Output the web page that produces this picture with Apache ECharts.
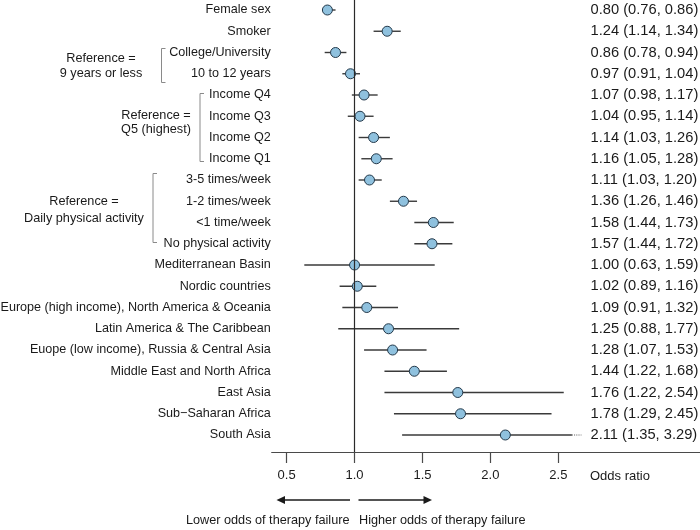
<!DOCTYPE html>
<html>
<head>
<meta charset="utf-8">
<script src="https://cdn.jsdelivr.net/npm/echarts@6/dist/echarts.min.js"></script>
<style>html,body{margin:0;padding:0;background:#fff}#c{width:700px;height:530px}</style>
</head>
<body>
<div id="c"></div>
<script>
var labels = ["Female sex","Smoker","College/University","10 to 12 years","Income Q4","Income Q3","Income Q2","Income Q1","3-5 times/week","1-2 times/week","<1 time/week","No physical activity","Mediterranean Basin","Nordic countries","Europe (high income), North America & Oceania","Latin America & The Caribbean","Euope (low income), Russia & Central Asia","Middle East and North Africa","East Asia","Sub\u2212Saharan Africa","South Asia"];
var oddsRatio = [0.80,1.24,0.86,0.97,1.07,1.04,1.14,1.16,1.11,1.36,1.58,1.57,1.00,1.02,1.09,1.25,1.28,1.44,1.76,1.78,2.11];
var ciLow = [0.76,1.14,0.78,0.91,0.98,0.95,1.03,1.05,1.03,1.26,1.44,1.44,0.63,0.89,0.91,0.88,1.07,1.22,1.22,1.29,1.35];
var ciHigh = [0.86,1.34,0.94,1.04,1.17,1.14,1.26,1.28,1.20,1.46,1.73,1.72,1.59,1.16,1.32,1.77,1.53,1.68,2.54,2.45,3.29];
var xTicks = [0.5,1.0,1.5,2.0,2.5];
var groupLabels = ["Reference =\n9 years or less","Reference =\nQ5 (highest)","Reference =\nDaily physical activity"];
var refValue = 1.0;
var displayCap = 2.6;
var dotCap = 2.67;

var rowIdx = labels.map(function(_, i){ return i; });
var ciText = rowIdx.map(function(i){
  return oddsRatio[i].toFixed(2) + " (" + ciLow[i].toFixed(2) + ", " + ciHigh[i].toFixed(2) + ")";
});
var yMin = -0.4706, yMax = 20.8;
var FONT = "Liberation Sans, Arial, Helvetica, sans-serif";
var TXT = "#1a1a1a";

var chart = echarts.init(document.getElementById("c"), null, {renderer: "canvas"});
var option = {
  animation: false,
  backgroundColor: "#fff",
  textStyle: {fontFamily: FONT},
  grid: {left: 271.7, right: 0, top: 0, height: 452, containLabel: false, outerBoundsMode: "none"},
  xAxis: {
    type: "value", min: 0.39, max: 3.543, position: "bottom",
    axisLine: {show: true, onZero: false, lineStyle: {color: "#4a4a4a", width: 1.2}},
    axisTick: {show: true, customValues: xTicks, length: 11, lineStyle: {color: "#4a4a4a", width: 1.2}},
    axisLabel: {show: true, customValues: xTicks, margin: 17, fontSize: 13, color: TXT, fontFamily: FONT,
      formatter: function(v){ return Number(v).toFixed(1); }},
    splitLine: {show: false}
  },
  yAxis: [{
    type: "value", inverse: true, min: yMin, max: yMax,
    axisLine: {show: false}, axisTick: {show: false}, splitLine: {show: false},
    axisLabel: {show: true, customValues: rowIdx, margin: 1, fontSize: 12.6, color: TXT, fontFamily: FONT,
      formatter: function(v){ return labels[Math.round(v)] || ""; }}
  }, {
    type: "value", inverse: true, min: yMin, max: yMax, position: "right",
    axisLine: {show: false}, axisTick: {show: false}, splitLine: {show: false},
    axisLabel: {show: true, inside: true, align: "left", customValues: rowIdx, margin: 109.5, fontSize: 14.7, color: TXT, fontFamily: FONT,
      formatter: function(v){ return ciText[Math.round(v)] || ""; }}
  }],
  series: [{
    type: "custom",
    z: 2,
    clip: false,
    data: rowIdx.map(function(i){ return [i, ciLow[i], ciHigh[i]]; }),
    encode: {x: [1, 2], y: 0},
    renderItem: function(params, api){
      var i = api.value(0), lo = api.value(1), hi = api.value(2);
      var p1 = api.coord([lo, i]);
      var p2 = api.coord([Math.min(hi, displayCap), i]);
      var children = [{
        type: "line",
        shape: {x1: p1[0], y1: p1[1], x2: p2[0], y2: p2[1]},
        style: {stroke: "#3a3a3a", lineWidth: 1.4}
      }];
      if (hi > displayCap) {
        var p3 = api.coord([dotCap, i]);
        children.push({
          type: "line",
          shape: {x1: p2[0], y1: p2[1], x2: p3[0], y2: p3[1]},
          style: {stroke: "#555", lineWidth: 1, lineDash: [1, 1.2]}
        });
      }
      return {type: "group", children: children};
    },
    markLine: {
      silent: true, symbol: "none", label: {show: false},
      lineStyle: {color: "#2a2a2a", width: 1.2, type: "solid"},
      data: [[{coord: [refValue, yMin]}, {coord: [refValue, yMax]}]]
    }
  }, {
    type: "scatter",
    z: 3,
    symbol: "circle",
    symbolSize: 10,
    itemStyle: {color: "#8fc1de", borderColor: "#24394a", borderWidth: 1, opacity: 1},
    data: rowIdx.map(function(i){ return [oddsRatio[i], i]; })
  }],
  graphic: [
    {type: "polyline", shape: {points: [[165.5,48.5],[161.5,48.5],[161.5,82.5],[165.5,82.5]]}, style: {stroke: "#8a8a8a", lineWidth: 1, fill: null}},
    {type: "polyline", shape: {points: [[204,93.5],[200,93.5],[200,161.5],[204,161.5]]}, style: {stroke: "#8a8a8a", lineWidth: 1, fill: null}},
    {type: "polyline", shape: {points: [[157,173.5],[153,173.5],[153,242.5],[157,242.5]]}, style: {stroke: "#8a8a8a", lineWidth: 1, fill: null}},
    {type: "text", style: {x: 101, y: 66, text: groupLabels[0], textAlign: "center", textVerticalAlign: "middle", font: "12.7px " + FONT, fill: TXT, lineHeight: 15}},
    {type: "text", style: {x: 156, y: 122, text: groupLabels[1], textAlign: "center", textVerticalAlign: "middle", font: "12.7px " + FONT, fill: TXT, lineHeight: 14}},
    {type: "text", style: {x: 84, y: 210, text: groupLabels[2], textAlign: "center", textVerticalAlign: "middle", font: "12.7px " + FONT, fill: TXT, lineHeight: 16.5}},
    {type: "text", style: {x: 590, y: 476, text: "Odds ratio", textAlign: "left", textVerticalAlign: "middle", font: "13px " + FONT, fill: TXT}},
    {type: "line", shape: {x1: 350, y1: 500, x2: 284, y2: 500}, style: {stroke: "#1a1a1a", lineWidth: 1.6}},
    {type: "polygon", shape: {points: [[276.5,500],[285,496],[285,504]]}, style: {fill: "#1a1a1a"}},
    {type: "line", shape: {x1: 358.5, y1: 500, x2: 424, y2: 500}, style: {stroke: "#1a1a1a", lineWidth: 1.6}},
    {type: "polygon", shape: {points: [[432,500],[423.5,496],[423.5,504]]}, style: {fill: "#1a1a1a"}},
    {type: "text", style: {x: 349.5, y: 520, text: "Lower odds of therapy failure", textAlign: "right", textVerticalAlign: "middle", font: "12.7px " + FONT, fill: TXT}},
    {type: "text", style: {x: 359, y: 520, text: "Higher odds of therapy failure", textAlign: "left", textVerticalAlign: "middle", font: "12.7px " + FONT, fill: TXT}}
  ]
};
chart.setOption(option);
</script>
</body>
</html>
